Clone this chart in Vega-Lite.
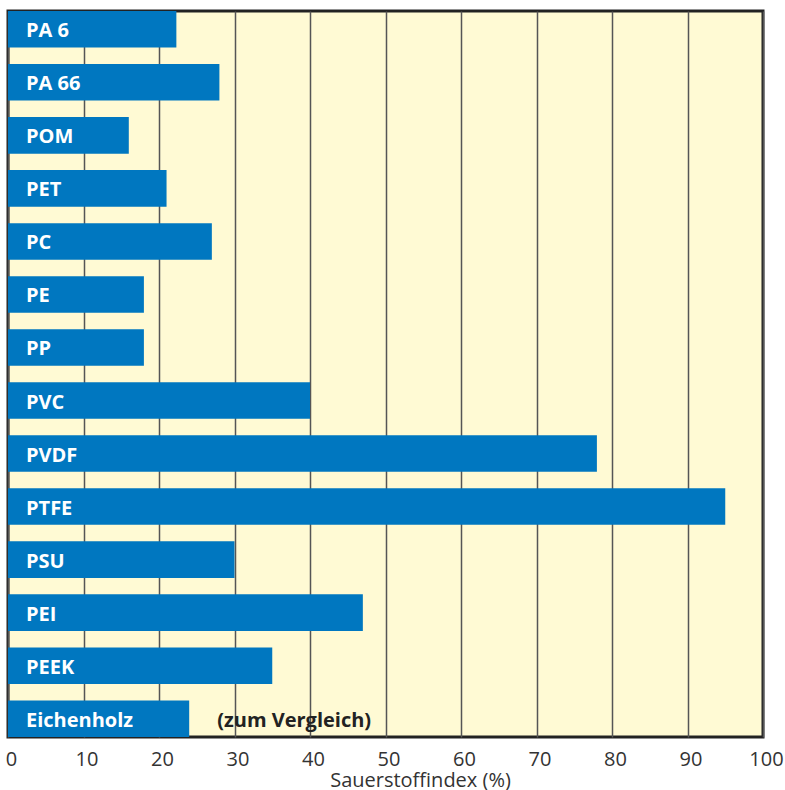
{
  "$schema": "https://vega.github.io/schema/vega-lite/v6.json",
  "width": 755,
  "height": 726,
  "autosize": {"type": "none"},
  "padding": {"left": 8, "top": 11, "right": 22, "bottom": 53},
  "background": "white",
  "config": {
    "view": {"fill": "#FFFAD4", "stroke": "#222222", "strokeWidth": 3},
    "font": "Open Sans"
  },
  "data": {
    "values": [
      {"material": "PA 6", "value": 22.3},
      {"material": "PA 66", "value": 28},
      {"material": "POM", "value": 16},
      {"material": "PET", "value": 21},
      {"material": "PC", "value": 27},
      {"material": "PE", "value": 18},
      {"material": "PP", "value": 18},
      {"material": "PVC", "value": 40},
      {"material": "PVDF", "value": 78},
      {"material": "PTFE", "value": 95},
      {"material": "PSU", "value": 30},
      {"material": "PEI", "value": 47},
      {"material": "PEEK", "value": 35},
      {"material": "Eichenholz", "value": 24, "note": "(zum Vergleich)"}
    ]
  },
  "encoding": {
    "y": {
      "field": "material",
      "type": "nominal",
      "sort": null,
      "axis": null,
      "scale": {"paddingInner": 0.31, "paddingOuter": 0}
    }
  },
  "layer": [
    {
      "mark": {"type": "bar", "color": "#0077C0"},
      "encoding": {
        "x": {
          "field": "value",
          "type": "quantitative",
          "scale": {"domain": [0, 100]},
          "axis": {
            "title": "Sauerstoffindex (%)",
            "values": [0, 10, 20, 30, 40, 50, 60, 70, 80, 90, 100],
            "grid": true,
            "gridColor": "#555555",
            "gridWidth": 1.5,
            "ticks": false,
            "domain": false,
            "labelFontSize": 20,
            "labelColor": "#333333",
            "labelFlush": false,
            "labelBaseline": "alphabetic",
            "labelPadding": 28,
            "labelOffset": 3,
            "titleFontSize": 20,
            "titleFontWeight": "normal",
            "titleColor": "#333333",
            "titleX": 412,
            "titleY": 49,
            "titleBaseline": "alphabetic"
          }
        }
      }
    },
    {
      "mark": {"type": "text", "align": "left", "baseline": "middle", "dx": 18, "dy": 2, "color": "white", "fontWeight": "bold", "fontSize": 20},
      "encoding": {
        "x": {"datum": 0, "type": "quantitative"},
        "text": {"field": "material"}
      }
    },
    {
      "transform": [{"filter": "datum.note"}],
      "mark": {"type": "text", "align": "left", "baseline": "middle", "dx": 28, "dy": 2, "color": "#222222", "fontWeight": "bold", "fontSize": 20},
      "encoding": {
        "x": {"field": "value", "type": "quantitative"},
        "text": {"field": "note"}
      }
    }
  ]
}
